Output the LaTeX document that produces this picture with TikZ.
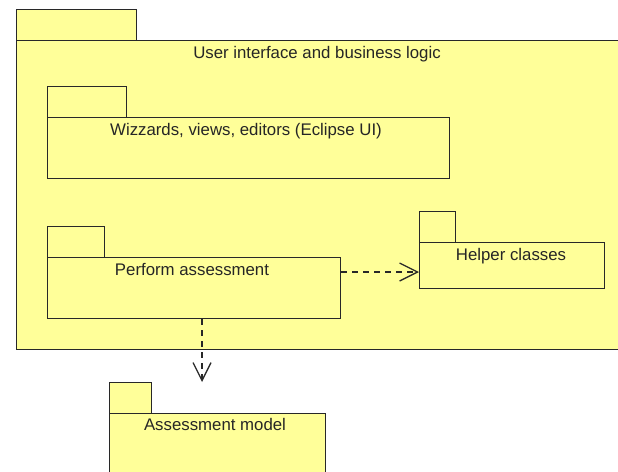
\documentclass[tikz,border=0pt]{standalone}
\usepackage{fontspec}
\setmainfont{Liberation Sans}
\usetikzlibrary{arrows.meta}
\definecolor{pkgfill}{RGB}{255,255,153}
\definecolor{pkgline}{RGB}{40,40,40}
\begin{document}
\begin{tikzpicture}[x=1pt,y=-1pt,
  pkgpart/.style={draw=pkgline,fill=pkgfill,line width=1.3pt,inner sep=0pt,anchor=north west},
  pkgtext/.style={inner sep=0pt,anchor=base,font=\fontsize{16.8}{18}\selectfont,text=black!85},
  dep/.style={draw=pkgline,line width=1.3pt,dash pattern=on 6pt off 5pt,-{Straight Barb[length=18pt,width=18pt,line width=1.3pt]}}]
\useasboundingbox (0,0) rectangle (618,471);
\clip (0,0) rectangle (618,471);
% outer package
\node[pkgpart,minimum width=120pt,minimum height=31pt] (outertab) at (16,9) {};
\node[pkgpart,minimum width=620pt,minimum height=309pt] (outer) at (16,40) {};
\node[pkgtext] (outertext) at (317,58) {User interface and business logic};
% wizzards
\node[pkgpart,minimum width=79pt,minimum height=31pt] (wiztab) at (47,86) {};
\node[pkgpart,minimum width=402pt,minimum height=61pt] (wiz) at (47,117) {};
\node[pkgtext] (wiztext) at (246,135.5) {Wizzards, views, editors (Eclipse UI)};
% perform assessment
\node[pkgpart,minimum width=57pt,minimum height=31pt] (perftab) at (47,226) {};
\node[pkgpart,minimum width=293pt,minimum height=61pt] (perf) at (47,257) {};
\node[pkgtext] (perftext) at (192,275.5) {Perform assessment};
% helper classes
\node[pkgpart,minimum width=36pt,minimum height=31pt] (helptab) at (419,211) {};
\node[pkgpart,minimum width=185pt,minimum height=46pt] (help) at (419,242) {};
\node[pkgtext] (helptext) at (511,260) {Helper classes};
% assessment model
\node[pkgpart,minimum width=42pt,minimum height=31pt] (modeltab) at (109,382) {};
\node[pkgpart,minimum width=216pt,minimum height=80pt] (model) at (109,413) {};
\node[pkgtext] (modeltext) at (215,430.5) {Assessment model};
% dependencies
\draw[dep] (perf.east |- 0,272) -- (help.west |- 0,272);
\draw[dep] (perf.south -| 202,0) -- (modeltab.north -| 202,0);
\end{tikzpicture}
\end{document}
